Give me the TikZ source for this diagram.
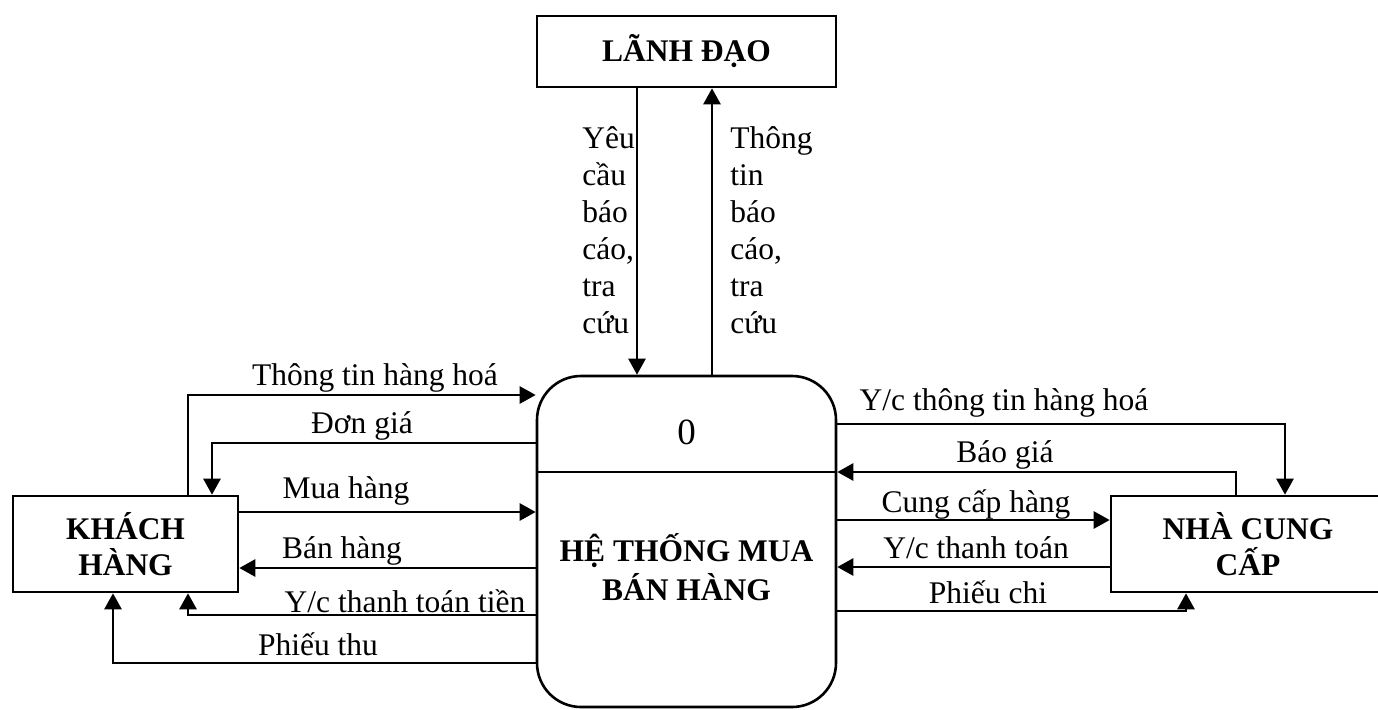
\documentclass[tikz,border=0pt]{standalone}
\usepackage{fontspec}
\setmainfont{Liberation Serif}
\usetikzlibrary{arrows.meta}
\begin{document}
\begin{tikzpicture}[x=0.5pt,y=-0.5pt,
  flow/.style={line width=1.3pt,-{Triangle[width=8.5pt,length=8pt]}},
  ent/.style={draw,line width=1.3pt,font=\bfseries\fontsize{15.75}{18}\selectfont,align=center,inner sep=0pt},
  lbl/.style={font=\fontsize{15.75}{18.5}\selectfont,inner sep=0pt},
  vlbl/.style={lbl,align=left,anchor=base west}]
\useasboundingbox[fill=white] (0,0) rectangle (1378,709);
% entities and process
\node[ent,minimum width=149.5pt,minimum height=35.5pt] (lanh) at (686.5,51.5) {LÃNH ĐẠO};
\node[ent,minimum width=112.5pt,minimum height=48pt] (khach) at (125.5,544) {KHÁCH\\HÀNG};
\node[ent,minimum width=137pt,minimum height=48pt] (ncc) at (1248,544) {NHÀ CUNG\\CẤP};
\node[draw,line width=1.3pt,rounded corners=22pt,minimum width=149.5pt,minimum height=165.5pt,inner sep=0pt] (proc) at (686.5,541.5) {};
\coordinate (dv) at (0,472);
\draw[line width=1.3pt] (proc.west |- dv) -- (proc.east |- dv);
\node[lbl,font=\fontsize{18.5}{20}\selectfont] (pid) at (686.5,432) {0};
\node[ent,draw=none,font=\bfseries\fontsize{15.75}{19.5}\selectfont] (pname) at (686.5,567) {HỆ THỐNG MUA\\BÁN HÀNG};
% helper coordinates
\coordinate (a1) at (188,395);
\coordinate (a2) at (212,443);
\coordinate (a3) at (0,512);
\coordinate (a4) at (0,568);
\coordinate (a5) at (188,615);
\coordinate (a6) at (113,663);
\coordinate (b1) at (1285,424);
\coordinate (b2) at (1236,472);
\coordinate (b3) at (0,520);
\coordinate (b4) at (0,567);
\coordinate (b5) at (1186,611);
\coordinate (c1) at (637,0);
\coordinate (c2) at (712,0);
% flows left
\draw[flow] (khach.north -| a1) |- (proc.west |- a1);
\draw[flow] (proc.west |- a2) -| (khach.north -| a2);
\draw[flow] (khach.east |- a3) -- (proc.west |- a3);
\draw[flow] (proc.west |- a4) -- (khach.east |- a4);
\draw[flow] (proc.west |- a5) -| (khach.south -| a5);
\draw[flow] (proc.west |- a6) -| (khach.south -| a6);
% flows right
\draw[flow] (proc.east |- b1) -| (ncc.north -| b1);
\draw[flow] (ncc.north -| b2) |- (proc.east |- b2);
\draw[flow] (proc.east |- b3) -- (ncc.west |- b3);
\draw[flow] (ncc.west |- b4) -- (proc.east |- b4);
\draw[flow] (proc.east |- b5) -| (ncc.south -| b5);
% flows top
\draw[flow] (lanh.south -| c1) -- (proc.north -| c1);
\draw[flow] (proc.north -| c2) -- (lanh.south -| c2);
% labels
\node[lbl,anchor=base] (l1) at (375,385) {Thông tin hàng hoá};
\node[lbl,anchor=base] (l2) at (362,433) {Đơn giá};
\node[lbl,anchor=base] (l3) at (346,498) {Mua hàng};
\node[lbl,anchor=base] (l4) at (342,558) {Bán hàng};
\node[lbl,anchor=base] (l5) at (405,612) {Y/c thanh toán tiền};
\node[lbl,anchor=base] (l6) at (318,655) {Phiếu thu};
\node[lbl,anchor=base] (r1) at (1004,410) {Y/c thông tin hàng hoá};
\node[lbl,anchor=base] (r2) at (1005,462) {Báo giá};
\node[lbl,anchor=base] (r3) at (976,512) {Cung cấp hàng};
\node[lbl,anchor=base] (r4) at (976,558) {Y/c thanh toán};
\node[lbl,anchor=base] (r5) at (988,603) {Phiếu chi};
\node[vlbl] (t1) at (582,333) {Yêu\\cầu\\báo\\cáo,\\tra\\cứu};
\node[vlbl] (t2) at (730,333) {Thông\\tin\\báo\\cáo,\\tra\\cứu};
\end{tikzpicture}
\end{document}
